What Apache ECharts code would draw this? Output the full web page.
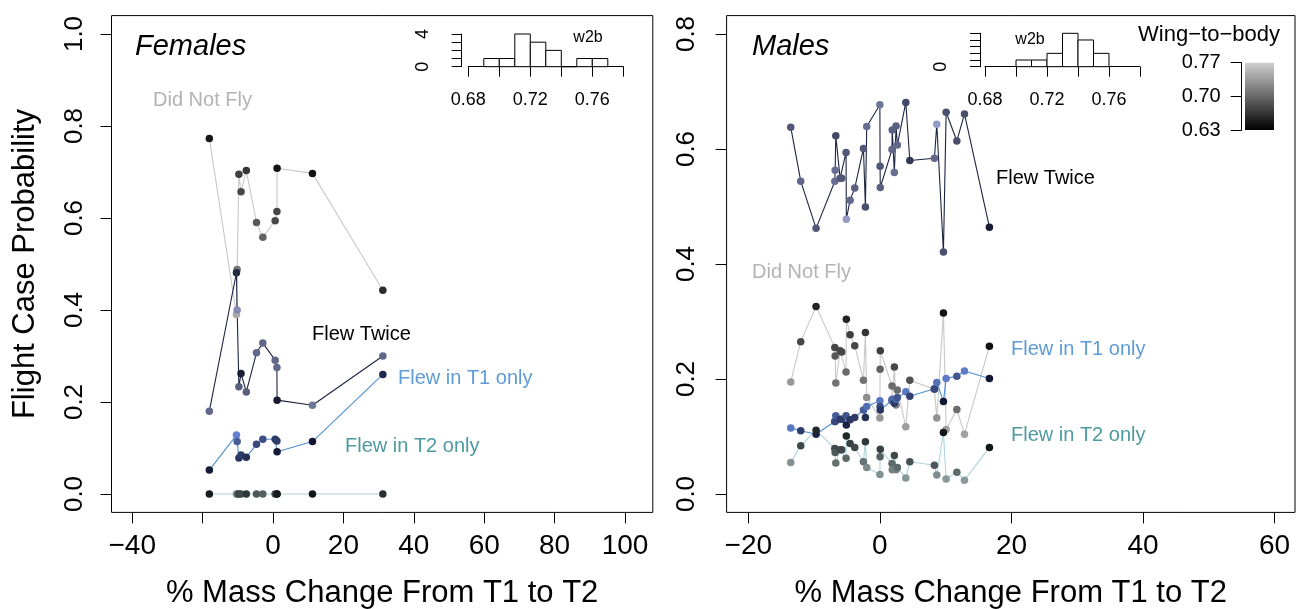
<!DOCTYPE html>
<html><head><meta charset="utf-8">
<script src="https://cdn.jsdelivr.net/npm/echarts@6/dist/echarts.min.js"></script>
<style>html,body{margin:0;padding:0;background:#fff}#c{width:1296px;height:609px}</style>
</head><body><div id="c"></div><script>
// ---------- DATA ----------
// Females (sorted by % mass change)
const femX   = [-18.1, -10.4, -10.2, -9.7, -9.1, -7.6, -4.7, -2.9, 0.6, 1.1, 1.15, 11.2, 31.2];
const femDNF = [0.773, 0.390, 0.488, 0.695, 0.657, 0.703, 0.590, 0.558, 0.594, 0.614, 0.708, 0.697, 0.443];
const femFT  = [0.180, 0.481, 0.400, 0.233, 0.262, 0.222, 0.307, 0.328, 0.291, 0.275, 0.204, 0.193, 0.300];
const femT1  = [0.052, 0.128, 0.114, 0.078, 0.085, 0.080, 0.108, 0.119, 0.119, 0.115, 0.092, 0.114, 0.260];
const femT2  = [0, 0, 0, 0, 0, 0, 0, 0, 0, 0, 0, 0, 0];
const femShade   = [0.03, 0.85, 0.55, 0.25, 0.30, 0.20, 0.40, 0.45, 0.30, 0.30, 0.02, 0.00, 0.15];
const femFTShade = [0.50, 0.10, 0.75, 0.45, 0.02, 0.45, 0.50, 0.50, 0.50, 0.50, 0.00, 0.60, 0.50];

// Males
const maleX   = [-13.55, -12.03, -9.70, -6.85, -6.80, -6.70, -6.05, -5.80, -5.14, -5.10, -4.53, -3.82, -2.50, -2.20, -2.00, 0.00, 0.03, 0.06, 1.84, 1.88, 2.20, 2.46, 2.66, 3.94, 4.55, 8.29, 8.65, 9.66, 10.07, 11.70, 12.86, 16.65];
const maleDNF = [0.195, 0.265, 0.326, 0.255, 0.240, 0.193, 0.249, 0.247, 0.212, 0.304, 0.277, 0.258, 0.198, 0.281, 0.168, 0.132, 0.217, 0.249, 0.188, 0.162, 0.221, 0.155, 0.181, 0.117, 0.198, 0.182, 0.132, 0.315, 0.112, 0.147, 0.104, 0.257];
const maleFT  = [0.638, 0.544, 0.462, 0.544, 0.563, 0.623, 0.549, 0.549, 0.594, 0.478, 0.511, 0.532, 0.601, 0.499, 0.639, 0.677, 0.570, 0.533, 0.599, 0.633, 0.559, 0.640, 0.607, 0.681, 0.580, 0.584, 0.643, 0.421, 0.664, 0.614, 0.661, 0.464];
const maleT1  = [0.115, 0.110, 0.104, 0.126, 0.126, 0.136, 0.130, 0.130, 0.136, 0.120, 0.129, 0.133, 0.146, 0.133, 0.152, 0.162, 0.152, 0.146, 0.163, 0.165, 0.158, 0.165, 0.168, 0.178, 0.170, 0.183, 0.194, 0.161, 0.201, 0.205, 0.214, 0.201];
const maleT2  = [0.055, 0.084, 0.111, 0.079, 0.072, 0.054, 0.077, 0.077, 0.062, 0.101, 0.088, 0.081, 0.056, 0.091, 0.046, 0.034, 0.065, 0.078, 0.053, 0.042, 0.067, 0.042, 0.046, 0.028, 0.056, 0.050, 0.033, 0.107, 0.026, 0.038, 0.024, 0.081];
const maleShade   = [0.75, 0.30, 0.10, 0.30, 0.40, 0.55, 0.30, 0.30, 0.50, 0.10, 0.25, 0.30, 0.55, 0.20, 0.70, 0.75, 0.45, 0.25, 0.50, 0.65, 0.30, 0.65, 0.50, 0.78, 0.35, 0.40, 0.72, 0.00, 0.80, 0.50, 0.80, 0.00];
const maleFTShade = [0.40, 0.50, 0.40, 0.55, 0.55, 0.30, 0.40, 0.40, 0.40, 0.85, 0.50, 0.45, 0.40, 0.35, 0.55, 0.60, 0.40, 0.45, 0.50, 0.45, 0.55, 0.45, 0.50, 0.30, 0.20, 0.50, 0.85, 0.35, 0.35, 0.35, 0.35, 0.00];

// Wing-to-body histograms (bin start, count), bin width 0.01
const femHistStart  = [0.69, 0.70, 0.71, 0.72, 0.73, 0.74, 0.75, 0.76];
const femHistCount  = [1, 1, 4, 3, 2, 0, 1, 1];
const maleHistStart = [0.70, 0.71, 0.72, 0.73, 0.74, 0.75];
const maleHistCount = [1, 1, 2, 5, 4, 2];
const histBinWidth = 0.01;

// Tick labels
const femXTicks   = [-40, -20, 0, 20, 40, 60, 80, 100];
const femXLabels  = [-40, 0, 20, 40, 60, 80, 100];
const maleXTicks  = [-20, 0, 20, 40, 60];
const femYTicks   = [0, 0.2, 0.4, 0.6, 0.8, 1.0];
const maleYTicks  = [0, 0.2, 0.4, 0.6, 0.8];
const histXTicks  = [0.68, 0.70, 0.72, 0.74, 0.76, 0.78];
const histXLabels = [0.68, 0.72, 0.76];
const cbarTicks   = [0.63, 0.70, 0.77];

// ---------- STYLE ----------
const FONT = 'Liberation Sans';
const RAMPS = {
  DNF: ['#111111', '#c4c4c4'],
  FT:  ['#161b32', '#a9b2de'],
  T1:  ['#111632', '#7194ec'],
  T2:  ['#111818', '#a8bbbb']
};
const LINECOL = { DNF: '#c8c8c8', FT: '#1d2442', T1: '#4f8fd3', T2: '#acd4db' };
function hex2rgb(h){ return [1,3,5].map(i=>parseInt(h.substr(i,2),16)); }
function ramp(key, t){
  const a = hex2rgb(RAMPS[key][0]), b = hex2rgb(RAMPS[key][1]);
  const c = a.map((v,i)=>Math.round(v + (b[i]-v)*t));
  return 'rgb(' + c.join(',') + ')';
}
const minus = v => (v < 0 ? '\u2212' + (-v) : String(v));

const chart = echarts.init(document.getElementById('c'), null, {renderer:'canvas'});

const grids = [
  {left:111.5, top:15.6, width:541.3, height:496.8},
  {left:726.6, top:15.6, width:568.4, height:496.8},
  {left:468.3, top:34.0, width:155, height:32.7},
  {left:985,   top:33.3, width:155, height:33.4},
  {left:1245,  top:62.7, width:29,  height:67.3}
].map((g,i)=>Object.assign({show: i<2, borderColor:'#000', borderWidth:1, backgroundColor:'transparent', outerBoundsMode:'none', containLabel:false}, g));

const tickStyle = {color:'#000', width:1};
function mainX(gi, min, max, ticks, labels){
  return {
    gridIndex: gi, type:'value', min, max, position:'bottom',
    axisLine:{show:false, onZero:false},
    axisTick:{show:true, length:11, customValues:ticks, lineStyle:tickStyle},
    axisLabel:{customValues:labels, fontSize:28, fontFamily:FONT, color:'#000', margin:20, formatter:minus, hideOverlap:false},
    splitLine:{show:false},
    name:'% Mass Change From T1 to T2', nameLocation:'middle', nameGap:66,
    nameTextStyle:{fontSize:31, fontFamily:FONT, color:'#000'}
  };
}
function mainY(gi, min, max, ticks, margin, name){
  const a = {
    gridIndex: gi, type:'value', min, max, position:'left',
    axisLine:{show:false, onZero:false},
    axisTick:{show:true, length:11, customValues:ticks, lineStyle:tickStyle},
    axisLabel:{customValues:ticks, fontSize:26, fontFamily:FONT, color:'#000', margin, rotate:90, formatter:v=>v.toFixed(1), hideOverlap:false},
    splitLine:{show:false}
  };
  if (name) Object.assign(a, {name, nameLocation:'middle', nameGap:71, nameTextStyle:{fontSize:31, fontFamily:FONT, color:'#000'}});
  return a;
}
function insetX(gi){
  return {
    gridIndex: gi, type:'value', min:0.68, max:0.78, position:'bottom',
    axisLine:{show:true, onZero:false, lineStyle:tickStyle},
    axisTick:{show:true, length:10, customValues:histXTicks, lineStyle:tickStyle},
    axisLabel:{customValues:histXLabels, fontSize:18, fontFamily:FONT, color:'#000', margin:24, formatter:v=>v.toFixed(2), hideOverlap:false},
    splitLine:{show:false}
  };
}
function insetY(gi, max, offset, labels){
  const t = []; for (let i=0;i<=max;i++) t.push(i);
  return {
    gridIndex: gi, type:'value', min:0, max, position:'left', offset,
    axisLine:{show:true, onZero:false, lineStyle:tickStyle},
    axisTick:{show:true, length:10, customValues:t, lineStyle:tickStyle},
    axisLabel:{customValues:labels, fontSize:18, fontFamily:FONT, color:'#000', margin:30, rotate:90, hideOverlap:false},
    splitLine:{show:false}
  };
}

const xAxis = [
  mainX(0, -45.9, 107.9, femXTicks, femXLabels),
  mainX(1, -23.3, 63.1, maleXTicks, maleXTicks),
  insetX(2), insetX(3),
  {gridIndex:4, type:'value', min:0, max:1, show:false}
];
const yAxis = [
  mainY(0, -0.04, 1.04, femYTicks, 24, 'Flight Case Probability'),
  mainY(1, -0.032, 0.832, maleYTicks, 27, null),
  insetY(2, 4, 6.6, [0, 4]),
  insetY(3, 5, 5, [0]),
  {gridIndex:4, type:'value', min:0.63, max:0.77, position:'left', offset:3.3,
   axisLine:{show:true, onZero:false, lineStyle:tickStyle},
   axisTick:{show:true, length:11, customValues:cbarTicks, lineStyle:tickStyle},
   axisLabel:{customValues:cbarTicks, fontSize:20, fontFamily:FONT, color:'#000', margin:21, formatter:v=>v.toFixed(2), hideOverlap:false},
   splitLine:{show:false}}
];

const series = [];
function addPanel(pi, x, groups){
  groups.forEach(g=>{
    series.push({type:'line', xAxisIndex:pi, yAxisIndex:pi, data:x.map((v,i)=>[v, g.y[i]]),
      symbol:'none', lineStyle:{color:LINECOL[g.key], width:1.1}, z:2, silent:true, animation:false});
  });
  groups.forEach(g=>{
    series.push({type:'scatter', xAxisIndex:pi, yAxisIndex:pi, data:x.map((v,i)=>[v, g.y[i], g.s[i]]),
      symbolSize:7.5, itemStyle:{opacity:1, color:p=>ramp(g.key, p.value[2])}, z:3, silent:true, animation:false});
  });
}
addPanel(0, femX, [
  {key:'DNF', y:femDNF, s:femShade}, {key:'FT', y:femFT, s:femFTShade},
  {key:'T1', y:femT1, s:femShade}, {key:'T2', y:femT2, s:femShade}]);
addPanel(1, maleX, [
  {key:'DNF', y:maleDNF, s:maleShade}, {key:'FT', y:maleFT, s:maleFTShade},
  {key:'T1', y:maleT1, s:maleShade}, {key:'T2', y:maleT2, s:maleShade}]);

function histSeries(gi, starts, counts){
  return {type:'custom', xAxisIndex:gi, yAxisIndex:gi, silent:true, animation:false,
    data: starts.map((s,i)=>[s, s+histBinWidth, counts[i]]),
    encode:{x:[0,1], y:2},
    renderItem:(params, api)=>{
      const p0 = api.coord([api.value(0), api.value(2)]);
      const p1 = api.coord([api.value(1), 0]);
      return {type:'rect', shape:{x:p0[0], y:p0[1], width:p1[0]-p0[0], height:p1[1]-p0[1]},
        style:{fill:'#fff', stroke:'#000', lineWidth:1}};
    }};
}
series.push(histSeries(2, femHistStart, femHistCount));
series.push(histSeries(3, maleHistStart, maleHistCount));
series.push({type:'custom', xAxisIndex:4, yAxisIndex:4, silent:true, animation:false,
  data:[[0, 1, cbarTicks[0], cbarTicks[2]]], encode:{x:[0,1], y:[2,3]},
  renderItem:(params, api)=>{
    const p0 = api.coord([api.value(0), api.value(3)]);
    const p1 = api.coord([api.value(1), api.value(2)]);
    return {type:'rect', shape:{x:p0[0], y:p0[1], width:p1[0]-p0[0], height:p1[1]-p0[1]},
      style:{fill:new echarts.graphic.LinearGradient(0,0,0,1,[{offset:0,color:'#d0d0d0'},{offset:1,color:'#000000'}])}};
  }});

const txt = (text, x, y, size, fill, opts={}) => ({type:'text', x, y, silent:true, z:10,
  style:Object.assign({text, fill, font:(opts.italic?'italic ':'') + size + 'px "' + FONT + '"', align:opts.align||'left', verticalAlign:'middle'}, {})});
const graphic = [
  txt('Females', 135, 47, 29, '#000', {italic:true}),
  txt('Did Not Fly', 153, 100, 20, '#b3b3b3'),
  txt('Flew Twice', 312, 334, 20, '#000'),
  txt('Flew in T1 only', 398, 378, 20, '#5f9bd6'),
  txt('Flew in T2 only', 345, 446, 20, '#4e9aa0'),
  txt('w2b', 588, 38, 16, '#000', {align:'center'}),
  txt('Males', 752, 47, 29, '#000', {italic:true}),
  txt('Flew Twice', 996, 178, 20, '#000'),
  txt('Did Not Fly', 752, 272, 20, '#b3b3b3'),
  txt('Flew in T1 only', 1011, 349, 20, '#5f9bd6'),
  txt('Flew in T2 only', 1011, 435, 20, '#4e9aa0'),
  txt('w2b', 1030, 40, 16, '#000', {align:'center'}),
  txt('Wing\u2212to\u2212body', 1209, 35, 22, '#000', {align:'center'})
];

chart.setOption({
  animation:false,
  backgroundColor:'#fff',
  textStyle:{fontFamily:FONT},
  grid:grids, xAxis, yAxis, series, graphic
});
</script></body></html>
